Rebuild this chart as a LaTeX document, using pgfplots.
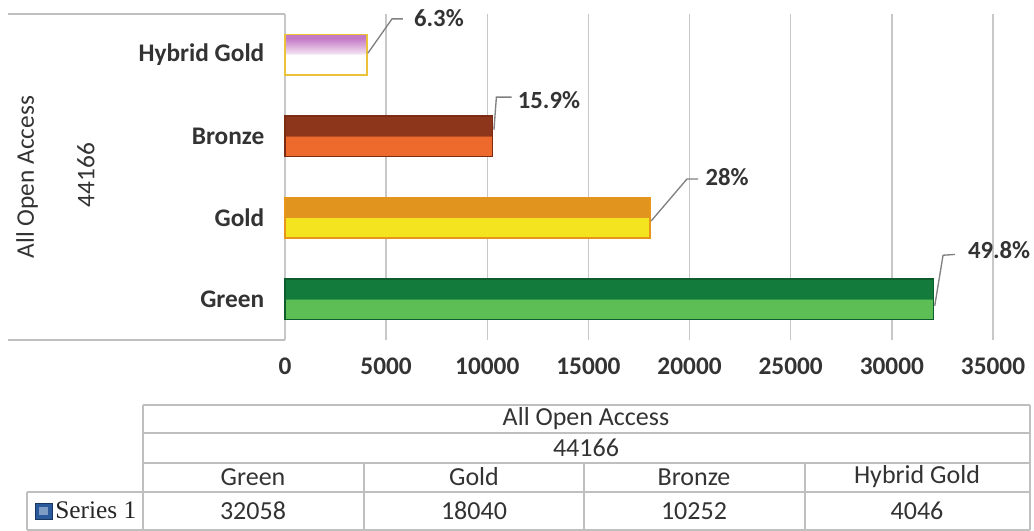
\documentclass[border=0pt]{standalone}
\usepackage{pgfplots}
\pgfplotsset{compat=1.18}
\usepackage{fontspec}
\setmainfont{Carlito}
\newfontfamily\timesf{Liberation Serif}
\definecolor{gdark}{HTML}{137C3D}
\definecolor{glight}{HTML}{5DBE56}
\definecolor{gborder}{HTML}{0D5C2C}
\definecolor{yldark}{HTML}{E2951E}
\definecolor{yllight}{HTML}{F3E41F}
\definecolor{ylborder}{HTML}{E8961A}
\definecolor{brdark}{HTML}{8E361B}
\definecolor{brlight}{HTML}{EE6A2C}
\definecolor{brborder}{HTML}{7A2B12}
\definecolor{hgpink}{HTML}{C57AC5}
\definecolor{hgborder}{HTML}{EBC23A}
\definecolor{gridc}{HTML}{C8C8C8}
\definecolor{tabc}{HTML}{BFBFBF}
\definecolor{txt}{HTML}{333333}
\definecolor{keyblue}{HTML}{2A5A9C}
\pgfdeclareverticalshading{greenbar}{100bp}{color(0bp)=(glight); color(50bp)=(glight); color(50.5bp)=(gdark); color(100bp)=(gdark)}
\pgfdeclareverticalshading{goldbar}{100bp}{color(0bp)=(yllight); color(50bp)=(yllight); color(50.5bp)=(yldark); color(100bp)=(yldark)}
\pgfdeclareverticalshading{bronzebar}{100bp}{color(0bp)=(brlight); color(50bp)=(brlight); color(50.5bp)=(brdark); color(100bp)=(brdark)}
\pgfdeclareverticalshading{hybridbar}{100bp}{color(0bp)=(white); color(50bp)=(white); color(52bp)=(hgpink!25); color(70bp)=(hgpink); color(100bp)=(hgpink)}
\newcommand\lab{\fontsize{19}{22}\selectfont}
\newcommand\dlab{\fontsize{18.5}{22}\selectfont}
\newcommand\tab{\fontsize{19.5}{22}\selectfont}
\begin{document}
\begin{tikzpicture}
\begin{axis}[
  at={(0,0)}, anchor=south west, scale only axis,
  width=531pt, height=244.5pt,
  xmin=0, xmax=35000, ymin=-0.5, ymax=3.5,
  xbar, bar shift=0pt, bar width=0.5,
  axis line style={draw=none},
  major tick length=0pt,
  scaled x ticks=false,
  xtick={0,5000,10000,15000,20000,25000,30000,35000},
  xticklabels={0,5000,10000,15000,20000,25000,30000,35000},
  ytick={0,1,2,3},
  yticklabels={Green,Gold,Bronze,Hybrid Gold},
  xmajorgrids, ymajorgrids=false,
  grid style={draw=gridc, line width=1.1pt},
  xticklabel style={font=\lab\bfseries, text=txt, yshift=-10pt},
  yticklabel style={font=\lab\bfseries, text=txt, xshift=-12pt},
  clip=false,
  /pgf/number format/assume math mode=true,
]
\addplot[shade, shading=greenbar, draw=gborder, line width=1.2pt] coordinates {(32058,0)};
\addplot[shade, shading=goldbar, draw=ylborder, line width=1.2pt] coordinates {(18040,1)};
\addplot[shade, shading=bronzebar, draw=brborder, line width=1.2pt] coordinates {(10252,2)};
\addplot[shade, shading=hybridbar, draw=hgborder, line width=1.2pt] coordinates {(4046,3)};
% leader lines and percentage labels
\draw[gray, line width=1pt] (axis cs:4100,3.02) -- (axis cs:5290,3.44) -- (axis cs:5830,3.44);
\node[font=\dlab\bfseries, text=txt] at (axis cs:7610,3.45) {6.3\%};
\draw[gray, line width=1pt] (axis cs:10330,2.08) -- (axis cs:10450,2.48) -- (axis cs:11200,2.48);
\node[font=\dlab\bfseries, text=txt] at (axis cs:13050,2.44) {15.9\%};
\draw[gray, line width=1pt] (axis cs:18100,0.96) -- (axis cs:19870,1.475) -- (axis cs:20420,1.475);
\node[font=\dlab\bfseries, text=txt] at (axis cs:21850,1.50) {28\%};
\draw[gray, line width=1pt] (axis cs:32120,-0.08) -- (axis cs:32530,0.54) -- (axis cs:33120,0.55);
\node[font=\dlab\bfseries, text=txt] at (axis cs:35300,0.60) {49.8\%};
\end{axis}
\begin{scope}[x=0.75pt, y=-0.75pt, xshift=-213.75pt, yshift=255pt]
% left box
\draw[tabc, line width=1.1pt] (8,14) -- (285,14);
\draw[tabc, line width=1.1pt] (8,340) -- (285,340);
\node[rotate=90, font=\lab, text=txt] at (27,177) {All Open Access};
\node[rotate=90, font=\lab, text=txt] at (86,175) {44166};
% table
\draw[tabc, line width=1.1pt] (143,405) -- (1030,405);
\draw[tabc, line width=1.1pt] (143,433) -- (1030,433);
\draw[tabc, line width=1.1pt] (143,463) -- (1030,463);
\draw[tabc, line width=1.1pt] (27,492) -- (1030,492);
\draw[tabc, line width=1.1pt] (27,530) -- (1030,530);
\draw[tabc, line width=1.1pt] (143,405) -- (143,530);
\draw[tabc, line width=1.1pt] (1030,405) -- (1030,530);
\draw[tabc, line width=1.1pt] (27,492) -- (27,530);
\foreach \xx in {364,584,805} \draw[tabc, line width=1.1pt] (\xx,463) -- (\xx,530);
\node[font=\tab, text=txt] at (586,419) {All Open Access};
\node[font=\tab, text=txt] at (586,448) {44166};
\node[font=\tab, text=txt] at (253,477) {Green};
\node[font=\tab, text=txt] at (474,477) {Gold};
\node[font=\tab, text=txt] at (694,477) {Bronze};
\node[font=\tab, text=txt] at (917,477) {Hybrid Gold};
\node[font=\tab, text=txt] at (253,511) {32058};
\node[font=\tab, text=txt] at (474,511) {18040};
\node[font=\tab, text=txt] at (694,511) {10252};
\node[font=\tab, text=txt] at (917,511) {4046};
\filldraw[fill=keyblue, draw=keyblue!60!black, line width=0.6pt] (35,503) rectangle (52,519);
\fill[keyblue!60!white] (39,507) rectangle (48,515);
\node[anchor=west, inner sep=0pt, font=\timesf\fontsize{19}{22}\selectfont, text=black!85] at (55,510) {Series 1};
\pgfresetboundingbox
\path[use as bounding box] (0,0) rectangle (1034,531);
\end{scope}
\end{tikzpicture}
\end{document}
